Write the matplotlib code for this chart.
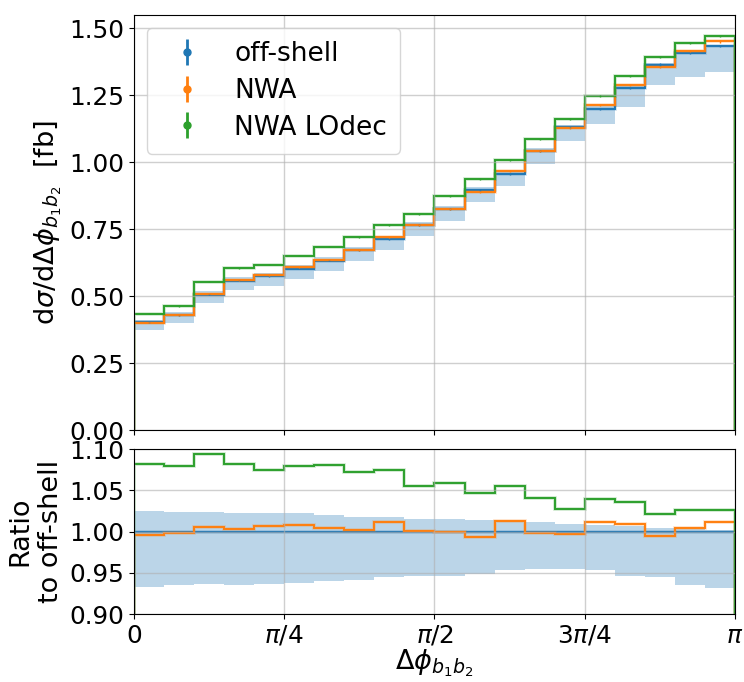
import numpy as np
import matplotlib
matplotlib.use("Agg")
import matplotlib.pyplot as plt

# Binning in delta phi between the two b jets
n_bins = 20
edges = np.linspace(0.0, np.pi, n_bins + 1)
centers = 0.5 * (edges[:-1] + edges[1:])

# Differential cross sections [fb]
offshell = [0.402, 0.429, 0.506, 0.558, 0.574, 0.603, 0.633, 0.671, 0.712, 0.765,
            0.826, 0.896, 0.955, 1.043, 1.130, 1.200, 1.276, 1.365, 1.409, 1.434]
nwa = [0.4004, 0.4281, 0.5088, 0.5597, 0.5780, 0.6078, 0.6355, 0.6723, 0.7198, 0.7658,
       0.8260, 0.8897, 0.9674, 1.0417, 1.1264, 1.2139, 1.2882, 1.3568, 1.4152, 1.4512]
nwa_lodec = [0.4351, 0.4631, 0.5536, 0.6038, 0.6165, 0.6512, 0.6843, 0.7193, 0.7647, 0.8071,
             0.8747, 0.9381, 1.0075, 1.0853, 1.1605, 1.2480, 1.3216, 1.3946, 1.4456, 1.4709]

# Statistical errors [fb]
err_offshell = [0.002, 0.002, 0.002, 0.002, 0.002, 0.002, 0.002, 0.002, 0.003, 0.003,
                0.003, 0.003, 0.003, 0.003, 0.003, 0.003, 0.003, 0.004, 0.004, 0.004]
err_nwa = [0.002, 0.002, 0.002, 0.002, 0.002, 0.002, 0.002, 0.002, 0.003, 0.003,
           0.003, 0.003, 0.003, 0.003, 0.003, 0.003, 0.003, 0.004, 0.004, 0.004]
err_lodec = [0.002, 0.002, 0.002, 0.002, 0.002, 0.002, 0.002, 0.002, 0.003, 0.003,
             0.003, 0.003, 0.003, 0.003, 0.003, 0.003, 0.003, 0.004, 0.004, 0.004]

# Scale-variation envelope of the off-shell prediction, relative to its central value
scale_up = [1.0245, 1.0240, 1.0233, 1.0229, 1.0225, 1.0220, 1.0197, 1.0180, 1.0177, 1.0150,
            1.0149, 1.0140, 1.0132, 1.0116, 1.0096, 1.0076, 1.0068, 1.0044, 1.0032, 1.0024]
scale_down = [0.9325, 0.9350, 0.9360, 0.9350, 0.9360, 0.9370, 0.9406, 0.9410, 0.9446, 0.9460,
              0.9460, 0.9486, 0.9538, 0.9542, 0.9550, 0.9530, 0.9460, 0.9446, 0.9350, 0.9313]

labels = ["off-shell", "NWA", "NWA LOdec"]
colors = ["#1f77b4", "#ff7f0e", "#2ca02c"]
xtick_pos = [0, np.pi / 4, np.pi / 2, 3 * np.pi / 4, np.pi]
xtick_lab = ["0", r"$\pi/4$", r"$\pi/2$", r"$3\pi/4$", r"$\pi$"]

fs_tick = 17.8
fs_label = 19.5
fs_leg = 19
plt.rcParams["font.family"] = ["DejaVu Sans"]

fig = plt.figure(figsize=(7.44, 6.82), dpi=100)
ax = fig.add_axes([0.180, 0.3695, 0.808, 0.6085])
rax = fig.add_axes([0.180, 0.0997, 0.808, 0.2419], sharex=ax)

off = np.array(offshell)
series = [off, np.array(nwa), np.array(nwa_lodec)]
errors = [err_offshell, err_nwa, err_lodec]

# Main panel
ax.stairs(off * np.array(scale_up), edges, baseline=off * np.array(scale_down),
          fill=True, color=colors[0], alpha=0.3, lw=0)
for vals, err, col, lab in zip(series, errors, colors, labels):
    ax.stairs(vals, edges, baseline=0, color=col, lw=2.6, alpha=0.25)
    ax.stairs(vals, edges, baseline=0, color=col, lw=1.4)
    ax.errorbar(centers, vals, yerr=err, fmt="none", ecolor=col, elinewidth=1)
    ax.errorbar([np.nan], [np.nan], yerr=[0.1], fmt="o", color=col, ms=5,
                elinewidth=2, label=lab)

ax.set_xlim(0, np.pi)
ax.set_ylim(0, 1.55)
ax.set_yticks([0.0, 0.25, 0.5, 0.75, 1.0, 1.25, 1.5])
ax.set_yticklabels(["0.00", "0.25", "0.50", "0.75", "1.00", "1.25", "1.50"])
ax.grid(True, color="#b0b0b0", alpha=0.6, lw=1)
ax.set_ylabel(r"$\mathrm{d}\sigma/\mathrm{d}\Delta\phi_{b_1b_2}$  [fb]", fontsize=fs_label)
ax.tick_params(labelsize=fs_tick, labelbottom=False)
ax.legend(loc="upper left", fontsize=fs_leg, handletextpad=0.8, borderpad=0.5,
          labelspacing=0.4, handlelength=2.0)

# Ratio panel
rax.stairs(scale_up, edges, baseline=scale_down, fill=True,
           color=colors[0], alpha=0.3, lw=0)
for vals, col in zip(series, colors):
    ratio = vals / off
    rax.stairs(ratio, edges, baseline=0, color=col, lw=2.6, alpha=0.25)
    rax.stairs(ratio, edges, baseline=0, color=col, lw=1.4)

rax.set_ylim(0.9, 1.1)
rax.set_yticks([0.90, 0.95, 1.00, 1.05, 1.10])
rax.set_yticklabels(["0.90", "0.95", "1.00", "1.05", "1.10"])
rax.set_xticks(xtick_pos)
rax.set_xticklabels(xtick_lab)
rax.grid(True, color="#b0b0b0", alpha=0.6, lw=1)
rax.tick_params(labelsize=fs_tick)
rax.set_ylabel("Ratio\nto off-shell", fontsize=fs_label)
rax.set_xlabel(r"$\Delta\phi_{b_1b_2}$", fontsize=fs_label, labelpad=0)

fig.align_ylabels([ax, rax])
fig.savefig("out.png", dpi=100)
